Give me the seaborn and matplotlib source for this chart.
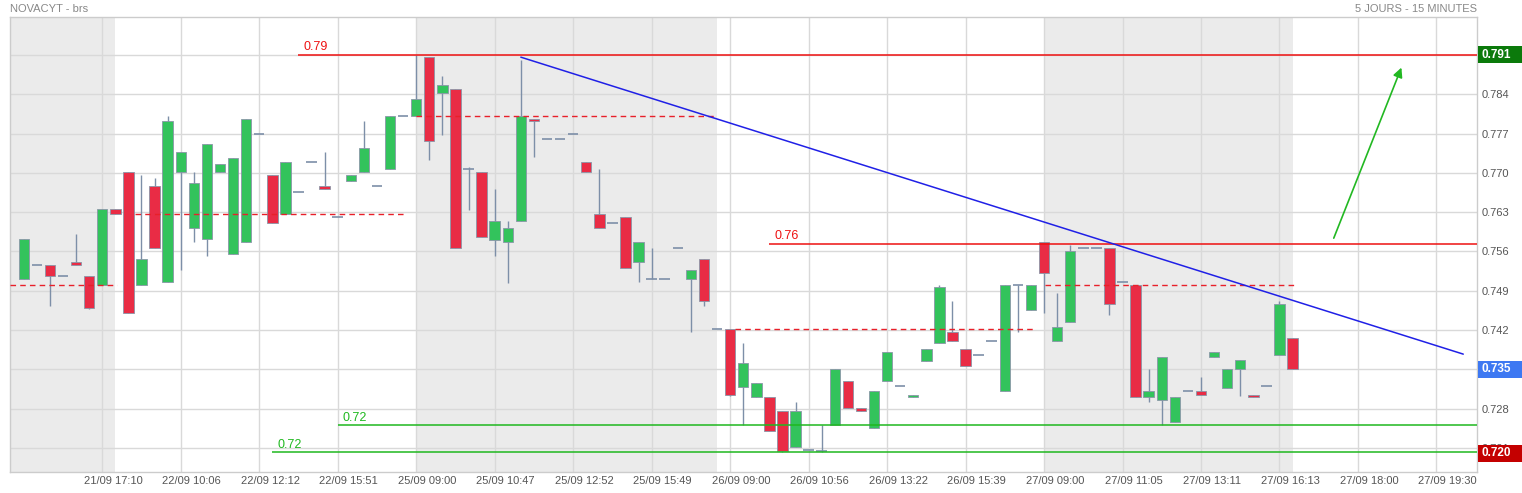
import matplotlib
matplotlib.use('Agg')
import matplotlib.pyplot as plt
import matplotlib.transforms as mtransforms
from matplotlib.patches import Rectangle
import seaborn as sns
import pandas as pd

# Kurse NOVACYT, 15-Minuten-Kerzen
opens = [0.7510, 0.7535, 0.7535, 0.7516, 0.7541, 0.7516, 0.7501, 0.7635, 0.7701, 0.7501,
         0.7676, 0.7505, 0.7701, 0.7601, 0.7582, 0.7701, 0.7555, 0.7576, 0.7770, 0.7696,
         0.7626, 0.7665, 0.7720, 0.7676, 0.7621, 0.7686, 0.7701, 0.7676, 0.7706, 0.7801,
         0.7801, 0.7906, 0.7842, 0.7850, 0.7706, 0.7701, 0.7581, 0.7576, 0.7615, 0.7795,
         0.7761, 0.7761, 0.7770, 0.7720, 0.7626, 0.7610, 0.7621, 0.7541, 0.7510, 0.7510,
         0.7566, 0.7510, 0.7546, 0.7421, 0.7421, 0.7319, 0.7300, 0.7300, 0.7276, 0.7211,
         0.7206, 0.7205, 0.7251, 0.7330, 0.7281, 0.7245, 0.7330, 0.7320, 0.7300, 0.7365,
         0.7396, 0.7416, 0.7386, 0.7375, 0.7400, 0.7311, 0.7501, 0.7455, 0.7576, 0.7400,
         0.7435, 0.7566, 0.7566, 0.7566, 0.7505, 0.7501, 0.7300, 0.7295, 0.7256, 0.7311,
         0.7311, 0.7371, 0.7316, 0.7350, 0.7305, 0.7320, 0.7375, 0.7405]
highs = [0.7582, 0.7535, 0.7535, 0.7516, 0.7591, 0.7516, 0.7635, 0.7635, 0.7701, 0.7696,
         0.7691, 0.7801, 0.7737, 0.7701, 0.7751, 0.7715, 0.7726, 0.7795, 0.7770, 0.7696,
         0.7720, 0.7665, 0.7720, 0.7737, 0.7621, 0.7696, 0.7792, 0.7676, 0.7801, 0.7801,
         0.7910, 0.7906, 0.7872, 0.7850, 0.7711, 0.7701, 0.7671, 0.7615, 0.7901, 0.7795,
         0.7761, 0.7761, 0.7770, 0.7720, 0.7706, 0.7610, 0.7621, 0.7576, 0.7566, 0.7510,
         0.7566, 0.7526, 0.7546, 0.7421, 0.7421, 0.7396, 0.7325, 0.7300, 0.7276, 0.7292,
         0.7206, 0.7251, 0.7350, 0.7330, 0.7281, 0.7311, 0.7380, 0.7320, 0.7305, 0.7386,
         0.7501, 0.7471, 0.7386, 0.7375, 0.7400, 0.7501, 0.7501, 0.7501, 0.7576, 0.7485,
         0.7571, 0.7566, 0.7566, 0.7566, 0.7505, 0.7501, 0.7350, 0.7371, 0.7300, 0.7311,
         0.7336, 0.7380, 0.7350, 0.7366, 0.7305, 0.7320, 0.7471, 0.7405]
lows = [0.7510, 0.7535, 0.7462, 0.7516, 0.7535, 0.7457, 0.7501, 0.7626, 0.7450, 0.7501,
        0.7566, 0.7505, 0.7527, 0.7577, 0.7552, 0.7701, 0.7555, 0.7576, 0.7770, 0.7610,
        0.7626, 0.7665, 0.7720, 0.7671, 0.7621, 0.7686, 0.7701, 0.7676, 0.7706, 0.7801,
        0.7801, 0.7722, 0.7768, 0.7566, 0.7633, 0.7585, 0.7552, 0.7503, 0.7615, 0.7728,
        0.7761, 0.7761, 0.7770, 0.7701, 0.7601, 0.7610, 0.7530, 0.7506, 0.7510, 0.7510,
        0.7566, 0.7417, 0.7462, 0.7421, 0.7303, 0.7251, 0.7300, 0.7240, 0.7203, 0.7211,
        0.7206, 0.7203, 0.7251, 0.7281, 0.7276, 0.7245, 0.7330, 0.7320, 0.7300, 0.7365,
        0.7396, 0.7400, 0.7355, 0.7375, 0.7400, 0.7311, 0.7417, 0.7455, 0.7451, 0.7400,
        0.7435, 0.7566, 0.7566, 0.7447, 0.7505, 0.7300, 0.7292, 0.7251, 0.7256, 0.7311,
        0.7305, 0.7371, 0.7316, 0.7302, 0.7300, 0.7320, 0.7375, 0.7350]
closes = [0.7582, 0.7535, 0.7516, 0.7516, 0.7535, 0.7460, 0.7635, 0.7626, 0.7450, 0.7546,
          0.7566, 0.7792, 0.7737, 0.7681, 0.7751, 0.7715, 0.7726, 0.7795, 0.7770, 0.7610,
          0.7720, 0.7665, 0.7720, 0.7671, 0.7621, 0.7696, 0.7745, 0.7676, 0.7801, 0.7801,
          0.7831, 0.7756, 0.7856, 0.7566, 0.7706, 0.7585, 0.7615, 0.7601, 0.7801, 0.7792,
          0.7761, 0.7761, 0.7770, 0.7701, 0.7601, 0.7610, 0.7530, 0.7576, 0.7510, 0.7510,
          0.7566, 0.7526, 0.7471, 0.7421, 0.7305, 0.7361, 0.7325, 0.7240, 0.7205, 0.7276,
          0.7206, 0.7205, 0.7350, 0.7281, 0.7276, 0.7311, 0.7380, 0.7320, 0.7305, 0.7386,
          0.7496, 0.7400, 0.7355, 0.7375, 0.7400, 0.7501, 0.7501, 0.7501, 0.7521, 0.7425,
          0.7560, 0.7566, 0.7566, 0.7466, 0.7505, 0.7300, 0.7311, 0.7371, 0.7300, 0.7311,
          0.7305, 0.7380, 0.7350, 0.7366, 0.7300, 0.7320, 0.7466, 0.7350]

tick_pos = [6, 12, 18, 24, 30, 36, 42, 48, 54, 60, 66, 72, 78, 84, 90, 96, 102, 108]
tick_labels = ['21/09 17:10', '22/09 10:06', '22/09 12:12', '22/09 15:51', '25/09 09:00',
               '25/09 10:47', '25/09 12:52', '25/09 15:49', '26/09 09:00', '26/09 10:56',
               '26/09 13:22', '26/09 15:39', '27/09 09:00', '27/09 11:05', '27/09 13:11',
               '27/09 16:13', '27/09 18:00', '27/09 19:30']
y_ticks = [0.721, 0.728, 0.735, 0.742, 0.749, 0.756, 0.763, 0.770, 0.777, 0.784, 0.791]

# Tagesreferenz (gestrichelt), Start/Ende je Tag
day_ref = [0.7501, 0.7626, 0.7801, 0.7421, 0.7501]
day_ref_from = [-1.03, 8.5, 30, 54.4, 78.1]
day_ref_to = [7.1, 29.1, 53, 77.2, 97.1]
shaded_days = [(-1.03, 7), (30, 53), (78, 97)]

# Widerstand / Unterstuetzung
levels = [0.791, 0.7574, 0.725, 0.7202]
level_start = [21, 57, 24, 19]
level_text = ['0.79', '0.76', '0.72', '0.72']
level_colors = ['#ee1111', '#ee1111', '#1fb81f', '#1fb81f']

trend_x = [38.0, 110.05]
trend_y = [0.7906, 0.7377]
arrow_from = (100.07, 0.7579)
arrow_to = (105.4, 0.7892)

badges = [(0.791, '0.791', '#0b7a0b'), (0.735, '0.735', '#3d78f2'), (0.720, '0.720', '#c40000')]

sns.set_theme(style='white')
plt.rcParams['font.family'] = ['Liberation Sans', 'DejaVu Sans']

df = pd.DataFrame({'o': opens, 'h': highs, 'l': lows, 'c': closes})
df['idx'] = range(len(df))

W, H = 1522, 493
fig = plt.figure(figsize=(W / 100, H / 100), dpi=100)
ax = fig.add_axes([10.3 / W, 1 - 472.3 / H, (1477 - 10.3) / W, (472.3 - 17.3) / H])
ax.set_xlim(-1.03, 111.1)
ax.set_ylim(0.71665, 0.7977)

for a, b in shaded_days:
    ax.axvspan(a, b, color='#ebebeb', lw=0, zorder=0.2)

ax.set_axisbelow(True)
ax.grid(True, color='#d9d9d9', lw=1)

wick_col = '#7d8fa8'
rng = df[df.h > df.l]
ax.vlines(rng.idx, rng.l, rng.h, color=wick_col, lw=1, zorder=2)

body = df[df.o != df.c]
cols = ['#33c35c' if c > o else '#e92c45' for o, c in zip(body.o, body.c)]
ax.bar(body.idx, (body.c - body.o).abs(), bottom=body[['o', 'c']].min(axis=1), width=0.8,
       color=cols, edgecolor='#8a96a8', linewidth=0.6, zorder=3)

doji = df[df.o == df.c]
ax.hlines(doji.c, doji.idx - 0.4, doji.idx + 0.4, color=wick_col, lw=1.2, zorder=3)

ax.hlines(day_ref, day_ref_from, day_ref_to, colors='#e8202a', lw=1,
          linestyles=[(0, (4, 3))], zorder=4)

xmax = ax.get_xlim()[1]
for v, s, t, c in zip(levels, level_start, level_text, level_colors):
    ax.hlines(v, s, xmax, color=c, lw=1.1, zorder=4)
    ax.text(s + 0.4, v + 0.0003, t, color=c, fontsize=9, va='bottom', ha='left', zorder=4)

sns.lineplot(x=trend_x, y=trend_y, color='#2020e6', lw=1.1, ax=ax, zorder=4)
ax.annotate('', xy=arrow_to, xytext=arrow_from,
            arrowprops=dict(arrowstyle='-|>', color='#22b822', lw=1.2, mutation_scale=14))

ax.set_xticks(tick_pos)
ax.set_xticklabels(tick_labels)
ax.set_yticks(y_ticks)
ax.set_yticklabels(['%.3f' % v for v in y_ticks])
ax.yaxis.tick_right()
ax.tick_params(axis='x', length=0, pad=2.5, labelsize=8, labelcolor='#555555')
ax.tick_params(axis='y', length=0, pad=3.6, labelsize=8, labelcolor='#555555')
shift = mtransforms.ScaledTranslation(11 / 100, 0, fig.dpi_scale_trans)
for lbl in ax.get_xticklabels():
    lbl.set_transform(lbl.get_transform() + shift)

for sp in ax.spines.values():
    sp.set_color('#cccccc')
    sp.set_linewidth(1)

trans = mtransforms.blended_transform_factory(ax.transAxes, ax.transData)
bh = 17 / 5614
for v, t, c in badges:
    ax.add_patch(Rectangle((1.0007, v - bh / 2), 0.0305, bh, transform=trans, fc=c, ec='none',
                           clip_on=False, zorder=6))
    ax.text(1.0034, v, t, transform=trans, color='white', fontsize=8.5, fontweight='bold',
            va='center', ha='left', zorder=7, clip_on=False)

fig.text(10 / W, 1 - 9 / H, 'NOVACYT - brs', color='#888888', fontsize=8, va='center', ha='left')
fig.text(1477 / W, 1 - 9 / H, '5 JOURS - 15 MINUTES', color='#888888', fontsize=8,
         va='center', ha='right')

fig.savefig('out.png', dpi=100)
